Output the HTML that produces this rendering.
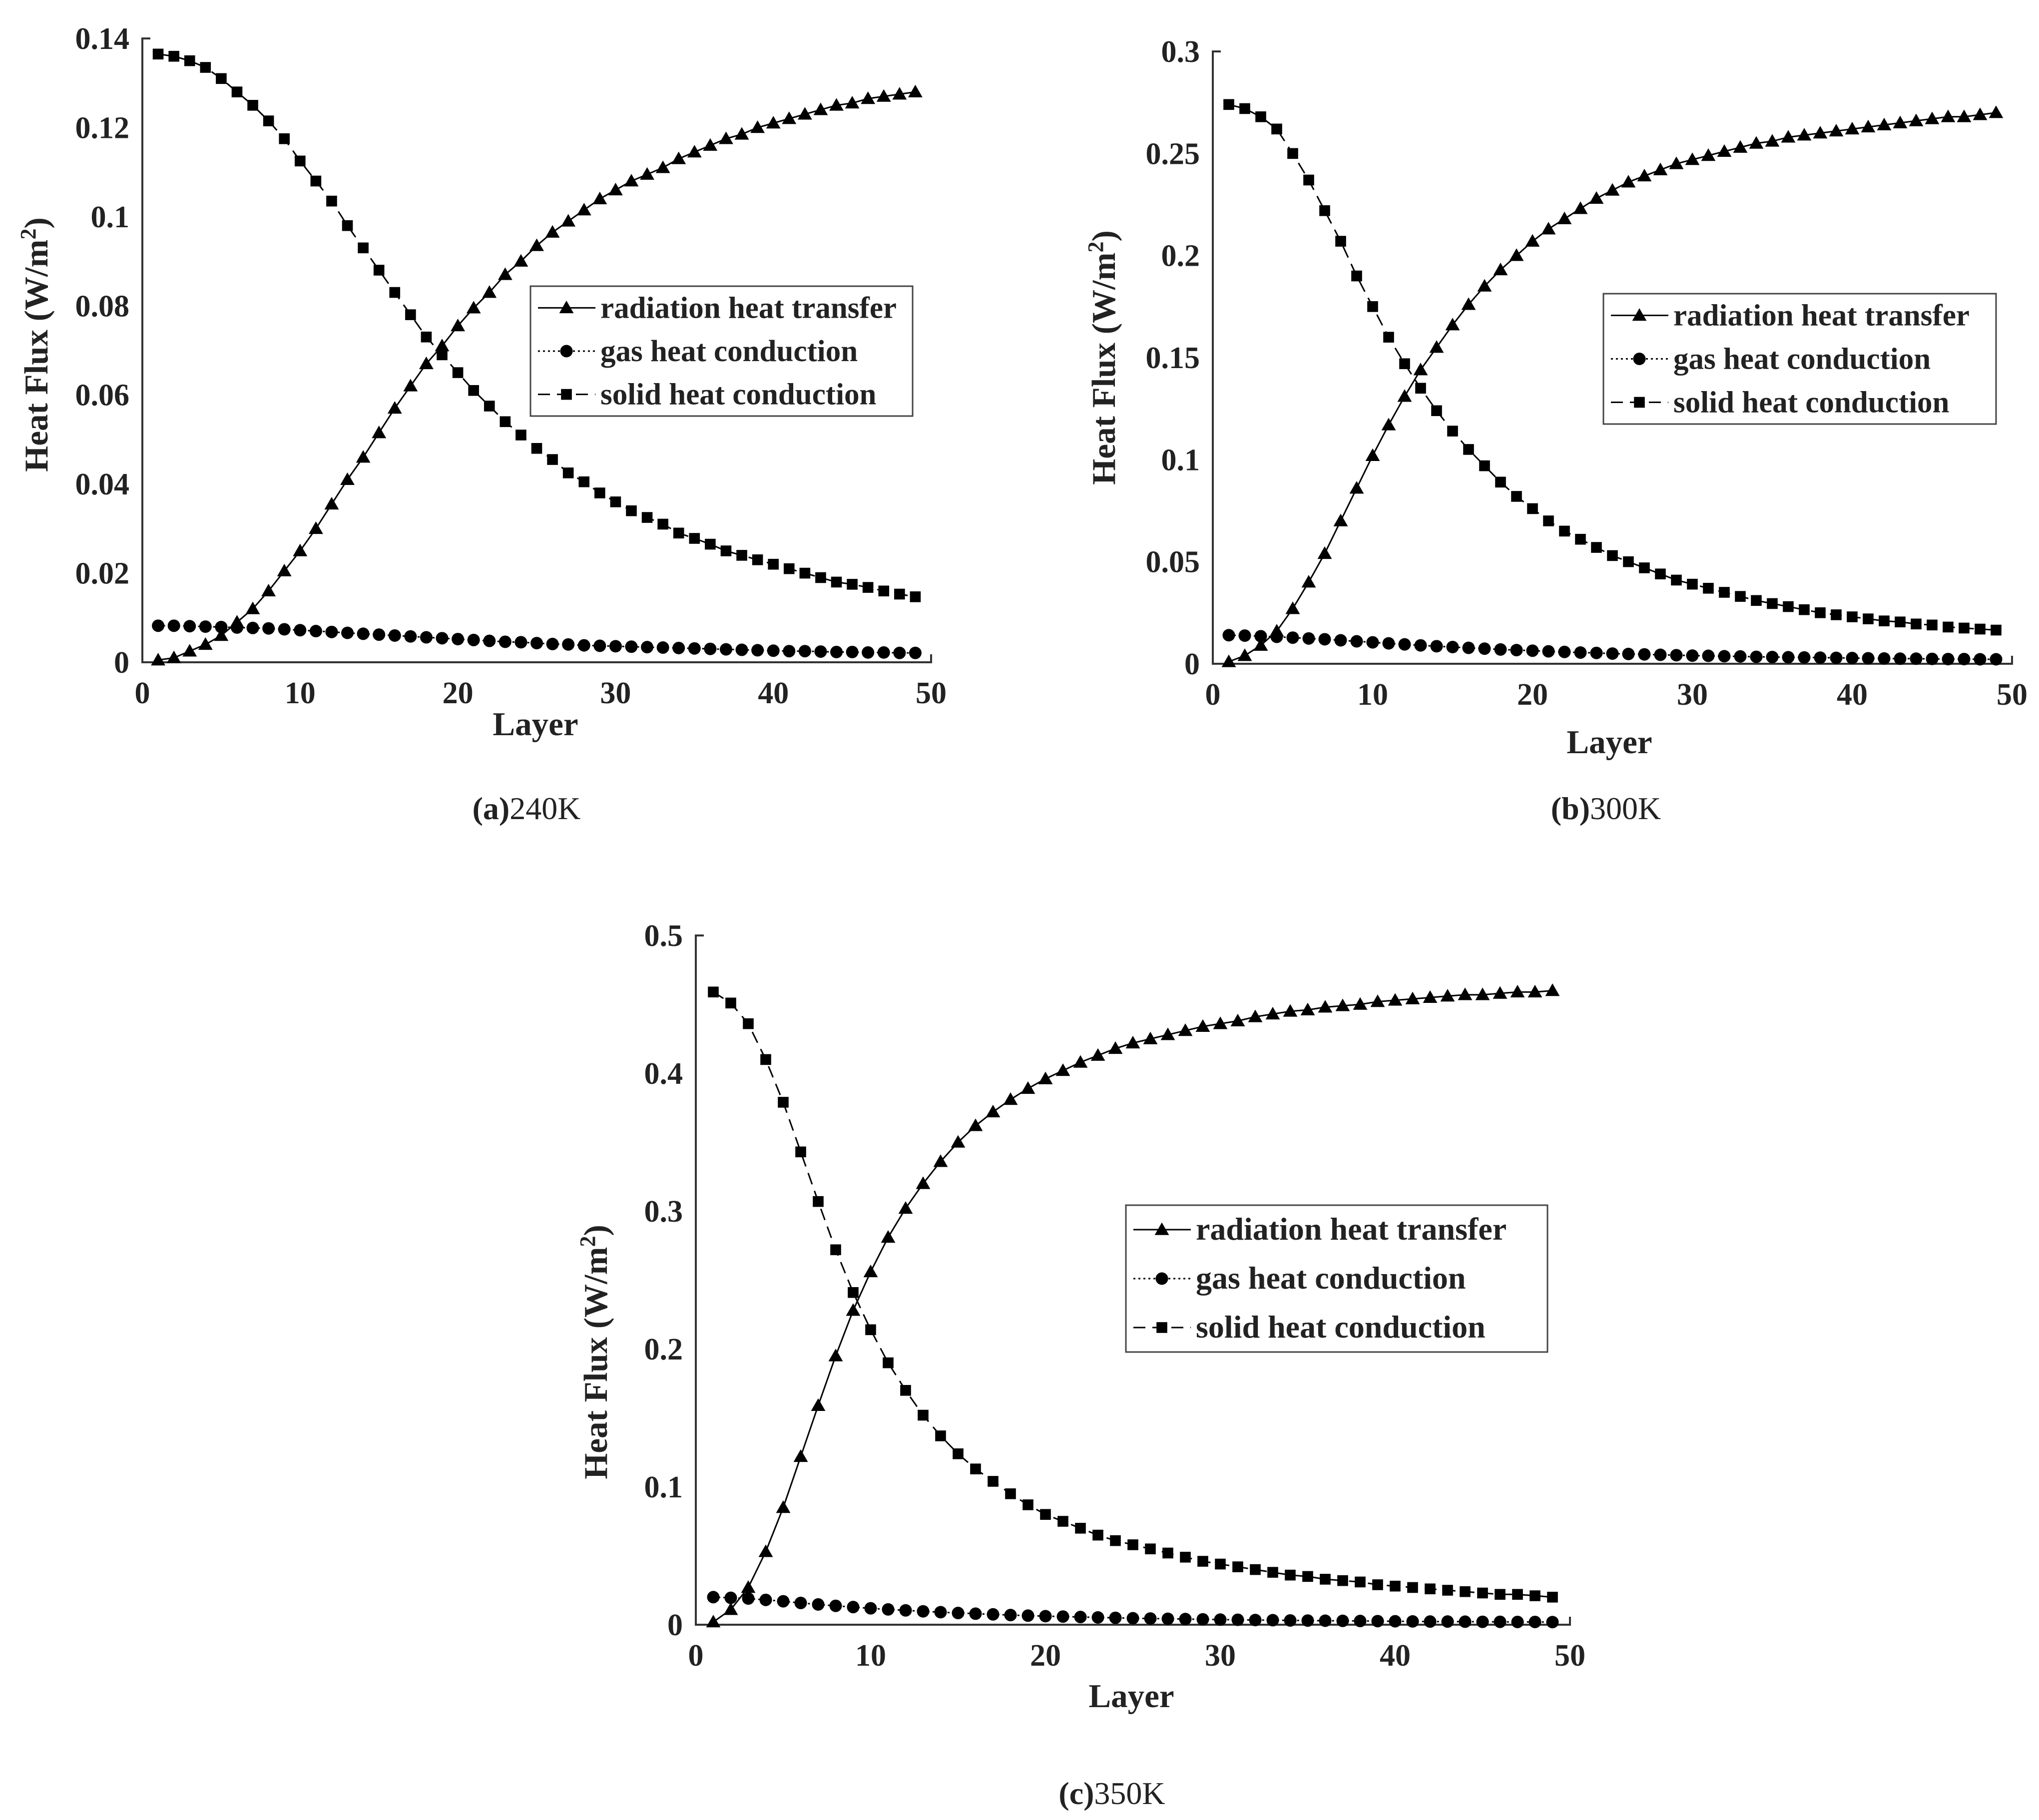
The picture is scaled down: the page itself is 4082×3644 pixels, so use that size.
<!DOCTYPE html>
<html><head><meta charset="utf-8">
<style>
html,body{margin:0;padding:0;background:#fff;}
svg{display:block;}
text{font-family:"Liberation Serif",serif;fill:#222;}
</style></head>
<body>
<svg id="fig" width="4082" height="3644" viewBox="0 0 4082 3644" xmlns="http://www.w3.org/2000/svg"></svg>
<script>
const layers = Array.from({length:49},(_, i)=>i+1);
const radA = [0.0005,0.001,0.0025,0.004,0.006,0.009,0.012,0.016,0.0205,0.025,0.030,0.0355,0.041,0.046,0.0515,0.057,0.062,0.067,0.071,0.0755,0.0795,0.083,0.087,0.090,0.0935,0.0965,0.099,0.1015,0.104,0.106,0.108,0.1095,0.111,0.113,0.1145,0.116,0.1175,0.1185,0.12,0.121,0.122,0.123,0.124,0.125,0.1255,0.1265,0.127,0.1275,0.128];
const gasA = [0.0082,0.0082,0.0081,0.008,0.0079,0.0078,0.0077,0.0076,0.0074,0.0072,0.0070,0.0068,0.0066,0.0064,0.0062,0.006,0.0058,0.0056,0.0054,0.0052,0.005,0.0048,0.0046,0.0045,0.0043,0.0041,0.004,0.0038,0.0037,0.0036,0.0035,0.0034,0.0033,0.0032,0.0031,0.003,0.0029,0.0028,0.0027,0.0026,0.0025,0.0025,0.0024,0.0023,0.0023,0.0022,0.0022,0.0021,0.0021];
const solA = [0.1365,0.136,0.135,0.1335,0.131,0.128,0.125,0.1215,0.1175,0.1125,0.108,0.1035,0.098,0.093,0.088,0.083,0.078,0.073,0.069,0.065,0.061,0.0575,0.054,0.051,0.048,0.0455,0.0425,0.0405,0.038,0.036,0.034,0.0325,0.031,0.029,0.0278,0.0265,0.025,0.024,0.023,0.022,0.021,0.020,0.019,0.018,0.0175,0.0168,0.016,0.0153,0.0147];
const radB = [0.001,0.004,0.009,0.016,0.027,0.04,0.054,0.07,0.086,0.102,0.117,0.131,0.144,0.155,0.166,0.176,0.185,0.193,0.2,0.207,0.213,0.218,0.223,0.228,0.232,0.236,0.239,0.242,0.245,0.247,0.249,0.251,0.253,0.255,0.256,0.258,0.259,0.26,0.261,0.262,0.263,0.264,0.265,0.266,0.267,0.268,0.268,0.269,0.27];
const gasB = [0.014,0.0138,0.0135,0.0132,0.0128,0.0124,0.012,0.0115,0.011,0.0105,0.01,0.0095,0.009,0.0086,0.0082,0.0078,0.0074,0.007,0.0067,0.0064,0.0061,0.0058,0.0055,0.0053,0.005,0.0048,0.0046,0.0044,0.0042,0.004,0.0039,0.0037,0.0036,0.0034,0.0033,0.0032,0.0031,0.003,0.0029,0.0028,0.0027,0.0026,0.0025,0.0025,0.0024,0.0023,0.0023,0.0022,0.0022];
const solB = [0.274,0.272,0.268,0.262,0.25,0.237,0.222,0.207,0.19,0.175,0.16,0.147,0.135,0.124,0.114,0.105,0.097,0.089,0.082,0.076,0.07,0.065,0.061,0.057,0.053,0.05,0.047,0.044,0.041,0.039,0.037,0.035,0.033,0.031,0.0295,0.028,0.0265,0.025,0.024,0.023,0.022,0.021,0.0205,0.0195,0.019,0.018,0.0175,0.017,0.0165];
const radC = [0.002,0.011,0.027,0.053,0.085,0.122,0.159,0.195,0.228,0.256,0.281,0.302,0.32,0.336,0.35,0.362,0.372,0.381,0.389,0.396,0.402,0.408,0.413,0.418,0.422,0.425,0.428,0.431,0.434,0.436,0.438,0.441,0.443,0.445,0.446,0.448,0.449,0.45,0.452,0.453,0.454,0.455,0.456,0.457,0.457,0.458,0.459,0.459,0.46];
const gasC = [0.02,0.0195,0.019,0.018,0.017,0.0158,0.0147,0.0137,0.0128,0.0119,0.0111,0.0104,0.0097,0.0091,0.0085,0.008,0.0075,0.007,0.0066,0.0062,0.0059,0.0056,0.0053,0.005,0.0047,0.0045,0.0043,0.0041,0.0039,0.0037,0.0036,0.0034,0.0033,0.0031,0.003,0.0029,0.0028,0.0027,0.0026,0.0025,0.0024,0.0023,0.0023,0.0022,0.0021,0.0021,0.002,0.002,0.0019];
const solC = [0.459,0.451,0.436,0.41,0.379,0.343,0.307,0.272,0.241,0.214,0.19,0.17,0.152,0.137,0.124,0.113,0.104,0.095,0.087,0.08,0.075,0.07,0.065,0.061,0.058,0.055,0.052,0.049,0.046,0.044,0.042,0.04,0.038,0.036,0.035,0.033,0.032,0.031,0.029,0.028,0.027,0.026,0.025,0.024,0.023,0.022,0.022,0.021,0.02];
const xTicks = [0,10,20,30,40,50];
const yTicksA = [0,0.02,0.04,0.06,0.08,0.1,0.12,0.14];
const yTickLabelsA = ["0","0.02","0.04","0.06","0.08","0.1","0.12","0.14"];
const yTicksB = [0,0.05,0.1,0.15,0.2,0.25,0.3];
const yTickLabelsB = ["0","0.05","0.1","0.15","0.2","0.25","0.3"];
const yTicksC = [0,0.1,0.2,0.3,0.4,0.5];
const yTickLabelsC = ["0","0.1","0.2","0.3","0.4","0.5"];
const legendLabels = ["radiation heat transfer","gas heat conduction","solid heat conduction"];

const NS="http://www.w3.org/2000/svg";
const svg=document.getElementById('fig');
function mk(tag,attrs,parent){const e=document.createElementNS(NS,tag);for(const k in attrs)e.setAttribute(k,attrs[k]);(parent||svg).appendChild(e);return e;}

function tri(g,x,y,s){return mk('polygon',{points:`${x},${y-s*0.6} ${x-s*0.6},${y+s*0.45} ${x+s*0.6},${y+s*0.45}`,fill:'#000'},g);}
function circ(g,x,y,s){return mk('circle',{cx:x,cy:y,r:s*0.5,fill:'#000'},g);}
function sq(g,x,y,s){return mk('rect',{x:x-s*0.45,y:y-s*0.45,width:s*0.9,height:s*0.9,fill:'#000'},g);}

function chart(cfg){
  const g=mk('g',{});
  
  
  const {L,R,T,B,ymax}=cfg;
  const xs=v=>L+(v-0)/(50-0)*(R-L);
  const ys=v=>B-(v/ymax)*(B-T);
  const ax=mk('path',{d:`M${L+16},${T} H${L} V${B} H${R} V${B-16}`,fill:'none',stroke:'#333','stroke-width':4},g);
  
  
  xTicks.forEach(t=>{
    const tx=mk('text',{x:xs(t),y:B+82,'font-size':62,'font-weight':'bold','text-anchor':'middle'},g);
    tx.textContent=t;
    
    
  });
  cfg.yt.forEach((t,i)=>{
    const tx=mk('text',{x:L-26,y:ys(t)+21,'font-size':62,'font-weight':'bold','text-anchor':'end'},g);
    tx.textContent=cfg.ytl[i];
    
    
  });
  const xl=mk('text',{x:cfg.xlab[0],y:cfg.xlab[1],'font-size':67,'font-weight':'bold','text-anchor':'middle'},g);
  xl.textContent='Layer';
  
  
  const yl=mk('text',{x:0,y:0,'font-size':67,'font-weight':'bold','text-anchor':'middle',transform:`translate(${cfg.ylab[0]},${cfg.ylab[1]}) rotate(-90)`},g);
  yl.innerHTML='Heat Flux (W/m<tspan dy="-24" font-size="44">2</tspan><tspan dy="24">)</tspan>';
  
  
  const series=[[cfg.rad,'none',tri,'radiation'],[cfg.gas,'4,6',circ,'gas'],[cfg.sol,'24,14',sq,'solid']];
  series.forEach(([arr,dash,fn,nm])=>{
    const d=arr.map((v,i)=>(i?'L':'M')+xs(layers[i]).toFixed(1)+','+ys(v).toFixed(1)).join(' ');
    const p=mk('path',{d,fill:'none',stroke:'#000','stroke-width':3,'stroke-dasharray':dash},g);
    
    
    arr.forEach((v,i)=>{
      const m=fn(g,xs(layers[i]),ys(v),nm==='gas'?25:24);
      
      
    });
  });
  const [lx,ly,lw,lh]=cfg.leg;
  const lg=mk('g',{},g);
  
  
  mk('rect',{x:lx,y:ly,width:lw,height:lh,fill:'#fff',stroke:'#444','stroke-width':3},lg);
  const rowH=lh/3;
  series.forEach(([arr,dash,fn,nm],i)=>{
    const cy=ly+rowH*(i+0.5);
    mk('line',{x1:lx+15,y1:cy,x2:lx+130,y2:cy,stroke:'#000','stroke-width':3,'stroke-dasharray':dash},lg);
    fn(lg,lx+72,cy,nm==='gas'?25:24);
    const t=mk('text',{x:lx+140,y:cy+20,'font-size':cfg.lfs,'font-weight':'bold'},lg);
    t.textContent=legendLabels[i];
    
    
  });
  const cap=mk('text',{x:cfg.cap[0],y:cfg.cap[1],'font-size':64,'text-anchor':'middle'},g);
  cap.innerHTML='<tspan font-weight="bold">('+cfg.letter+')</tspan>'+cfg.temp;
  
  
}
chart({name:'chart-240k',L:285,R:1864,T:77,B:1326,ymax:0.14,yt:yTicksA,ytl:yTickLabelsA,rad:radA,gas:gasA,sol:solA,
  xlab:[1072,1472],ylab:[95,690],leg:[1062,573,765,260],lfs:61,cap:[1054,1640],letter:'a',temp:'240K'});
chart({name:'chart-300k',L:2428,R:4028,T:103,B:1329,ymax:0.3,yt:yTicksB,ytl:yTickLabelsB,rad:radB,gas:gasB,sol:solB,
  xlab:[3222,1508],ylab:[2232,716],leg:[3210,588,786,261],lfs:61,cap:[3215,1640],letter:'b',temp:'300K'});
chart({name:'chart-350k',L:1393,R:3143,T:1873,B:3253,ymax:0.5,yt:yTicksC,ytl:yTickLabelsC,rad:radC,gas:gasC,sol:solC,
  xlab:[2265,3418],ylab:[1215,2707],leg:[2254,2413,844,294],lfs:64,cap:[2226,3612],letter:'c',temp:'350K'});
</script>
</body></html>
